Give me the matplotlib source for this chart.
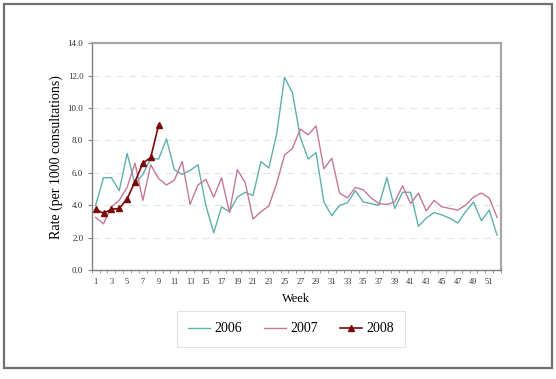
import numpy as np
import matplotlib.pyplot as plt
from matplotlib.patches import Rectangle

weeks = np.arange(1, 53)
rate_2006 = [4.0, 5.7, 5.7, 4.9, 7.2, 5.3, 5.9, 6.9, 6.85, 8.1,
             6.2, 5.9, 6.15, 6.5, 4.0, 2.3, 3.9, 3.6, 4.5, 4.8,
             4.6, 6.7, 6.3, 8.4, 11.9, 10.95, 8.2, 6.85, 7.25, 4.2,
             3.35, 4.0, 4.15, 4.9, 4.2, 4.1, 4.0, 5.7, 3.8, 4.8,
             4.8, 2.7, 3.2, 3.55, 3.4, 3.2, 2.9, 3.6, 4.2, 3.05,
             3.7, 2.15]
rate_2007 = [3.25, 2.85, 3.9, 4.3, 5.1, 6.6, 4.3, 6.5, 5.65, 5.25,
             5.55, 6.7, 4.05, 5.25, 5.6, 4.5, 5.7, 3.55, 6.2, 5.4,
             3.15, 3.6, 3.95, 5.35, 7.1, 7.5, 8.7, 8.35, 8.9, 6.25,
             6.9, 4.75, 4.45, 5.1, 4.95, 4.45, 4.1, 4.05, 4.2, 5.2,
             4.1, 4.75, 3.65, 4.3, 3.9, 3.8, 3.7, 4.0, 4.5, 4.75,
             4.45, 3.25]
weeks_2008 = np.arange(1, 10)
rate_2008 = [3.75, 3.5, 3.75, 3.8, 4.4, 5.45, 6.6, 6.95, 8.95]

c06 = '#5fb0ae'
c07 = '#c5789a'
c08 = '#7a0a0a'

plt.rcParams['font.family'] = 'Liberation Serif'

fig = plt.figure(figsize=(5.56, 3.79), dpi=100)
ax = fig.add_axes([91.7 / 556, 1 - 270 / 379, (501 - 91.7) / 556, (270 - 43.3) / 379])

ax.plot(weeks, rate_2006, color=c06, linewidth=1.0, label='2006')
ax.plot(weeks, rate_2007, color=c07, linewidth=1.0, label='2007')
ax.plot(weeks_2008, rate_2008, color=c08, marker='^', markersize=5,
        linewidth=1.2, label='2008')

ax.set_xlim(0.5, 52.5)
ax.set_ylim(0, 14)
ax.set_yticks(np.arange(0, 14.1, 2))
ax.set_yticklabels(['%.1f' % v for v in np.arange(0, 14.1, 2)], fontsize=6.5)
ax.set_xticks(np.arange(1, 53, 2))
ax.set_xticklabels([str(w) for w in range(1, 53, 2)], fontsize=6)
ax.set_xticks(np.arange(0.5, 53, 1), minor=True)
ax.tick_params(axis='x', which='major', length=0, pad=6, colors='#333333')
ax.tick_params(axis='x', which='minor', length=2, color='#888888')
ax.tick_params(axis='y', length=3, color='#888888', colors='#333333', pad=3)
ax.yaxis.grid(True, linestyle=(0, (6, 5)), color='#e4e4e4', linewidth=0.8)
ax.set_axisbelow(True)

for side in ['left', 'bottom']:
    ax.spines[side].set_color('#808080')
    ax.spines[side].set_linewidth(1.0)
for side in ['top', 'right']:
    ax.spines[side].set_color('#a6a6a6')
    ax.spines[side].set_linewidth(1.6)

ax.set_xlabel('Week', fontsize=9, labelpad=5)
ax.set_ylabel('Rate (per 1000 consultations)', fontsize=10, labelpad=3)

leg = fig.legend(loc='center', bbox_to_anchor=(291 / 556, 1 - 329 / 379),
                 ncol=3, fontsize=10, frameon=True, fancybox=False,
                 handlelength=1.6, handletextpad=0.3, columnspacing=1.6,
                 borderpad=0.8, borderaxespad=0, markerscale=0.8)
leg.get_frame().set_edgecolor('#dcdcdc')
leg.get_frame().set_linewidth(0.8)

fig.patches.append(Rectangle((4 / 556, 1 - 368 / 379), 548 / 556, 364 / 379,
                             transform=fig.transFigure, fill=False,
                             edgecolor='#707070', linewidth=1.6))

fig.savefig('out.png', dpi=100)
